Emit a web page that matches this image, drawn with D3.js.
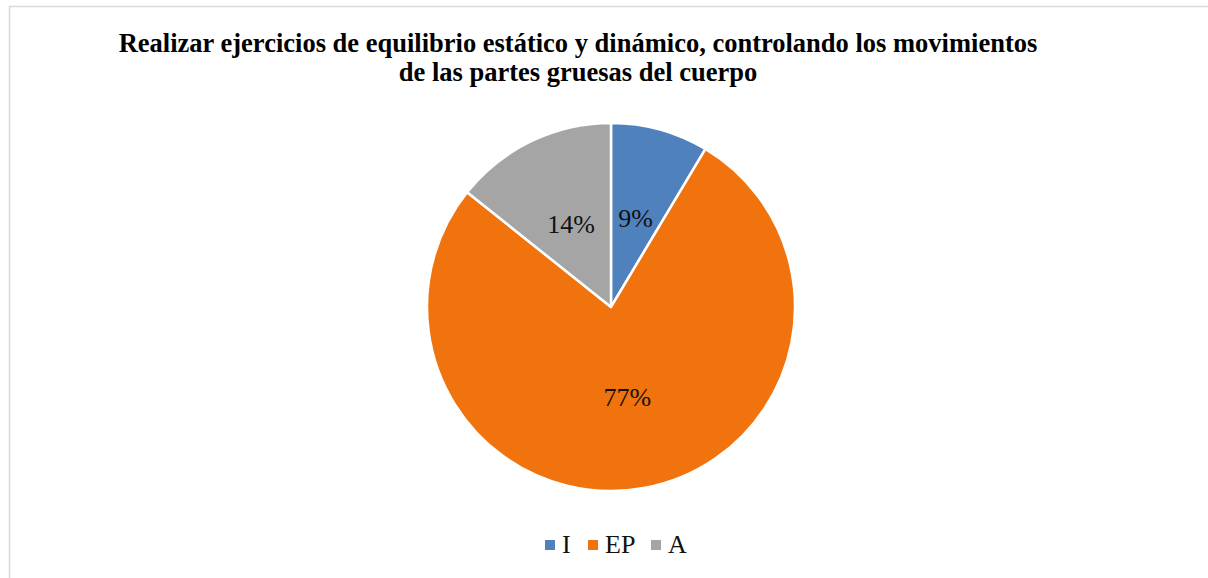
<!DOCTYPE html>
<html>
<head>
<meta charset="utf-8">
<script src="https://cdn.jsdelivr.net/npm/d3@7/dist/d3.min.js"></script>
<style>
  body { margin: 0; background: #fff; }
  svg { display: block; }
</style>
</head>
<body>
<script>
// data (counts give 9% / 77% / 14%)
const categories = ["I", "EP", "A"];
const counts = [3, 27, 5];
const colors = ["#4f81bd", "#f0730d", "#a5a5a5"];
const titleLines = [
  "Realizar ejercicios de equilibrio estático y dinámico, controlando los movimientos",
  "de las partes gruesas del cuerpo"
];

const width = 1208, height = 578;
const cx = 611, cy = 307, radius = 184;
const serif = "Liberation Serif";

const svg = d3.select("body").append("svg")
    .attr("width", width)
    .attr("height", height);

// chart frame
svg.append("rect")
    .attr("x", 9.5).attr("y", 6.5)
    .attr("width", width + 20).attr("height", height + 20)
    .attr("fill", "#fff")
    .attr("stroke", "#d9d9d9")
    .attr("stroke-width", 1.5);

// title
svg.append("text")
    .attr("x", 578).attr("y", 52)
    .attr("text-anchor", "middle")
    .attr("font-family", serif)
    .attr("font-weight", "bold")
    .attr("font-size", 26.5)
    .attr("fill", "#000")
    .selectAll("tspan")
    .data(titleLines)
    .join("tspan")
      .attr("x", 578)
      .attr("dy", (d, i) => i ? 29 : 0)
      .text(d => d);

const total = d3.sum(counts);
const pie = d3.pie().sort(null).value(d => d)(counts);
const arc = d3.arc().innerRadius(0).outerRadius(radius);

const g = svg.append("g").attr("transform", `translate(${cx},${cy})`);

g.selectAll("path")
  .data(pie)
  .join("path")
    .attr("d", arc)
    .attr("fill", (d, i) => colors[i])
    .attr("stroke", "#fff")
    .attr("stroke-width", 2.5)
    .attr("stroke-linejoin", "round");

g.selectAll("text.lbl")
  .data(pie)
  .join("text")
    .attr("class", "lbl")
    .attr("transform", d => `translate(${arc.centroid(d)})`)
    .attr("text-anchor", "middle")
    .attr("dy", "0.33em")
    .attr("font-family", serif)
    .attr("font-size", 26)
    .attr("fill", "#111")
    .text(d => Math.round(d.value / total * 100) + "%");

// legend
const legendX = [545, 588, 651];
const legend = svg.append("g")
  .selectAll("g")
  .data(categories)
  .join("g")
    .attr("transform", (d, i) => `translate(${legendX[i]},540)`);

legend.append("rect")
    .attr("width", 10).attr("height", 10)
    .attr("fill", (d, i) => colors[i]);

legend.append("text")
    .attr("x", 17).attr("y", 13)
    .attr("font-family", serif)
    .attr("font-size", 26)
    .attr("fill", "#111")
    .text(d => d);
</script>
</body>
</html>
